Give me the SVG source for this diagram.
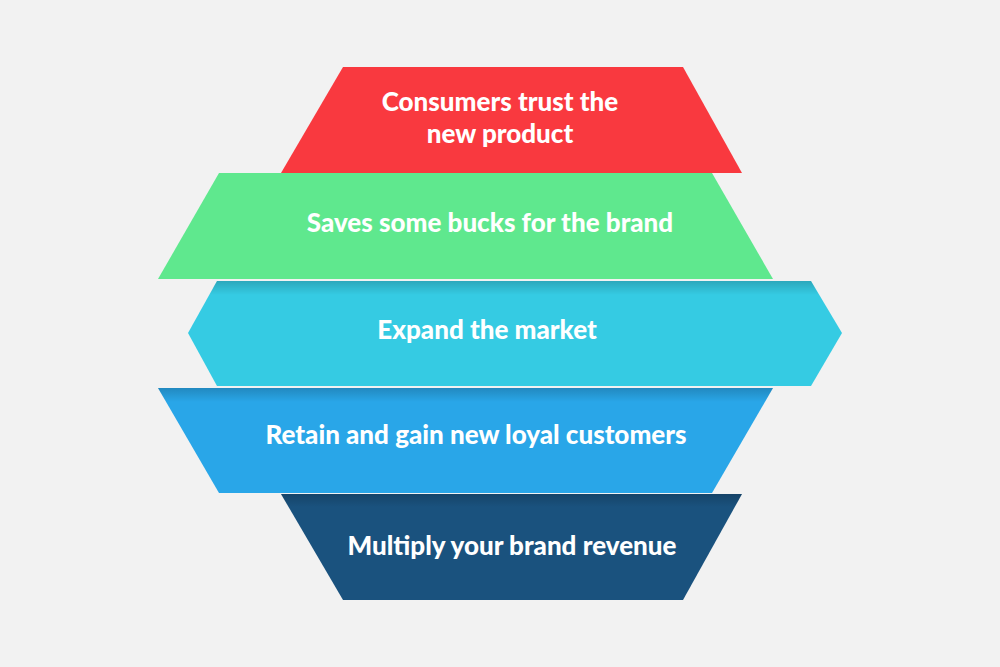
<svg xmlns="http://www.w3.org/2000/svg" width="1000" height="667" viewBox="0 0 1000 667">
<defs>
<style>
.t{font-family:Lato,"Open Sans",sans-serif;font-weight:900;font-size:26px;fill:#fff;text-anchor:middle}
</style>
<linearGradient id="sh" x1="0" y1="0" x2="0" y2="1">
<stop offset="0" stop-color="#000" stop-opacity="0.25"/>
<stop offset="1" stop-color="#000" stop-opacity="0"/>
</linearGradient>
<radialGradient id="gs" cx="0.5" cy="0" r="0.5">
<stop offset="0" stop-color="#a85a30" stop-opacity="0.45"/>
<stop offset="1" stop-color="#a85a30" stop-opacity="0"/>
</radialGradient>
<clipPath id="cg"><polygon points="219,173 712,173 773,279 158,279"/></clipPath>
</defs>
<rect width="1000" height="667" fill="#f2f2f2"/>
<g id="n1"><polygon points="343,67 683,67 742,173 281,173" fill="#f9393f"/>
<text class="t" x="500" y="111">Consumers trust the</text><text class="t" x="500" y="143">new product</text></g>
<g id="n2"><polygon points="219,173 712,173 773,279 158,279" fill="#5fe88e"/>
<ellipse cx="610" cy="173" rx="130" ry="24" fill="url(#gs)" clip-path="url(#cg)"/>
<text class="t" x="490" y="232">Saves some bucks for the brand</text></g>
<g id="n3"><polygon points="217,281 811,281 842,333 811,386 217,386 188,333" fill="#35cbe3"/>
<polygon points="217,281 811,281 819,295 209,295" fill="url(#sh)" opacity="0.7"/>
<text class="t" x="487" y="339">Expand the market</text></g>
<g id="n4"><polygon points="158,388 773,388 712,493 219,493" fill="#29a6e8"/>
<polygon points="158,388 773,388 765,402 166,402" fill="url(#sh)" opacity="0.7"/>
<text class="t" x="476" y="444">Retain and gain new loyal customers</text></g>
<g id="n5"><polygon points="281,494 742,494 683,600 343,600" fill="#1a527e"/>
<polygon points="281,494 742,494 735,507 288,507" fill="url(#sh)" opacity="0.7"/>
<text class="t" x="512" y="555">Multiply your brand revenue</text></g>
<g id="connectors"/>
</svg>
